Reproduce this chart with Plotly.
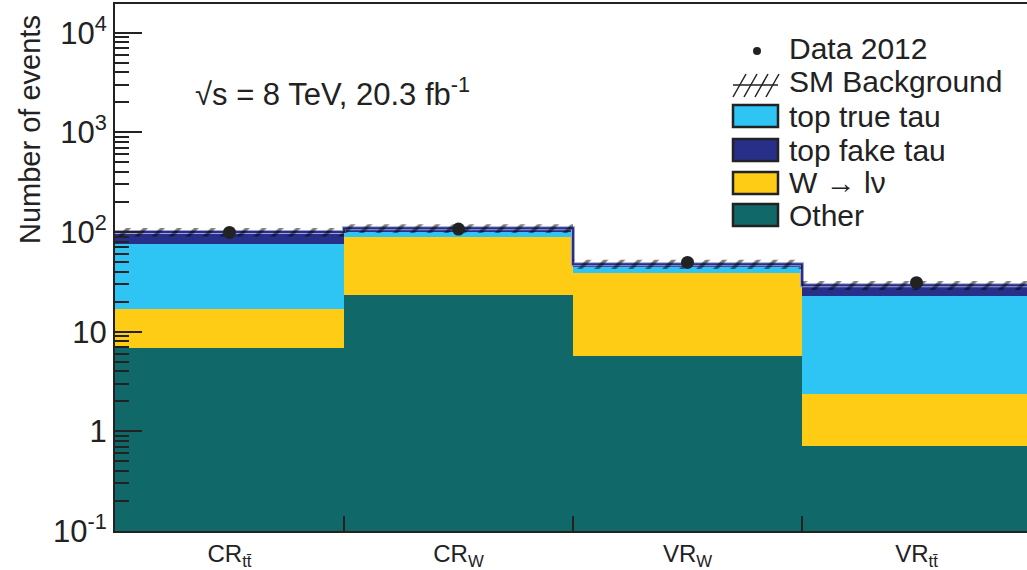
import plotly.graph_objects as go

# Regions (bins) and stacked background yields
regions = ["CR<sub>tt̄</sub>", "CR<sub>W</sub>", "VR<sub>W</sub>", "VR<sub>tt̄</sub>"]
bin_centers = [0.5, 1.5, 2.5, 3.5]
bin_edges = [0, 1, 2, 3, 4]

other = [6.9, 23.2, 5.7, 0.71]
w_lnu = [10.0, 66.3, 32.7, 1.65]
top_true_tau = [58.6, 10.5, 6.4, 20.5]
top_fake_tau = [24.5, 9.0, 2.8, 6.4]
bkg_err = [10.0, 11.0, 5.0, 3.0]
data_2012 = [99, 107, 49.5, 31]

C_OTHER = "#106868"
C_W = "#fecc14"
C_TRUE = "#2ec4f3"
C_FAKE = "#272f88"
FONT = "Liberation Sans, Arial, sans-serif"

W, H = 1027, 570
L, T, B = 115, 4, 531  # plot area in pixels


def px(x):
    return (x - L) / (W - L)


def py(y):
    return (B - y) / (B - T)


total = [a + b + c + d for a, b, c, d in zip(other, w_lnu, top_true_tau, top_fake_tau)]
upper = [t + e for t, e in zip(total, bkg_err)]
lower = [t - e for t, e in zip(total, bkg_err)]

fig = go.Figure()

for name, vals, col in [
    ("Other", other, C_OTHER),
    ("W → lν", w_lnu, C_W),
    ("top true tau", top_true_tau, C_TRUE),
    ("top fake tau", top_fake_tau, C_FAKE),
]:
    fig.add_trace(
        go.Bar(x=bin_centers, y=vals, width=1, name=name,
               marker=dict(color=col, line=dict(width=0)), showlegend=False)
    )

# total outline (step)
fig.add_trace(go.Scatter(x=bin_edges, y=total + total[-1:], mode="lines",
                         line=dict(shape="hv", color="#9ea3d4", width=4),
                         showlegend=False, hoverinfo="skip"))
fig.add_trace(go.Scatter(x=bin_edges, y=total + total[-1:], mode="lines",
                         line=dict(shape="hv", color=C_FAKE, width=2),
                         showlegend=False, hoverinfo="skip"))

# SM background uncertainty band (hatched)
fig.add_trace(go.Scatter(x=bin_edges, y=lower + lower[-1:], mode="lines",
                         line=dict(shape="hv", width=0), showlegend=False,
                         hoverinfo="skip"))
fig.add_trace(go.Scatter(x=bin_edges, y=upper + upper[-1:], mode="lines",
                         line=dict(shape="hv", width=0), fill="tonexty",
                         fillcolor="rgba(0,0,0,0)",
                         fillpattern=dict(shape="/", fgcolor="black",
                                          bgcolor="rgba(0,0,0,0)", size=12,
                                          solidity=0.3),
                         showlegend=False, hoverinfo="skip"))

# data
fig.add_trace(go.Scatter(x=bin_centers, y=data_2012, mode="markers",
                         marker=dict(color="#222222", size=13),
                         name="Data 2012", showlegend=False))

# y ticks
major = [0.1, 1, 10, 100, 1000, 10000]
major_txt = ["10<sup>-1</sup>", "1", "10", "10<sup>2</sup>", "10<sup>3</sup>", "10<sup>4</sup>"]
minor_vals = [m * d for d in [0.1, 1, 10, 100, 1000, 10000] for m in range(2, 10)]

fig.update_layout(
    width=W, height=H,
    margin=dict(l=L, r=0, t=T, b=H - B),
    paper_bgcolor="white", plot_bgcolor="white",
    barmode="stack", bargap=0,
    font=dict(family=FONT, color="#222222"),
    showlegend=False,
)
fig.update_xaxes(
    range=[0, (W - L) / 229.0], showgrid=False, zeroline=False,
    tickvals=bin_centers, ticktext=regions, ticks="", tickfont=dict(size=24),
    showline=True, linecolor="#222222", linewidth=2, mirror=True,
    minor=dict(tickvals=[1, 2, 3], ticks="inside", ticklen=15,
               tickcolor="#222222", tickwidth=1.5),
)
fig.update_yaxes(
    type="log", range=[-1, 4.288], showgrid=False, zeroline=False,
    tickvals=major, ticktext=major_txt, ticks="inside", ticklen=27,
    tickwidth=1.5, tickcolor="#222222", tickfont=dict(size=31),
    showline=True, linecolor="#222222", linewidth=2,
    minor=dict(tickvals=minor_vals, ticks="inside", ticklen=14,
               tickcolor="#222222", tickwidth=1.5),
)

annotations = [
    dict(xref="paper", yref="paper", x=px(30), y=py(130), text="Number of events",
         textangle=-90, showarrow=False, font=dict(size=29),
         xanchor="center", yanchor="middle"),
    dict(xref="paper", yref="paper", x=px(193), y=py(92),
         text="√s = 8 TeV, 20.3 fb<sup>-1</sup>",
         showarrow=False, font=dict(size=31), xanchor="left", yanchor="middle"),
]
shapes = []

# legend drawn by hand
leg_rows = [
    ("Data 2012", 48, None),
    ("SM Background", 82, None),
    ("top true tau", 116, C_TRUE),
    ("top fake tau", 150, C_FAKE),
    ("W → lν", 183, C_W),
    ("Other", 215, C_OTHER),
]
for label, yc, col in leg_rows:
    annotations.append(dict(xref="paper", yref="paper", x=px(787), y=py(yc),
                            text=label, showarrow=False, font=dict(size=30),
                            xanchor="left", yanchor="middle"))
    if col is not None:
        shapes.append(dict(type="rect", xref="paper", yref="paper",
                           x0=px(733), x1=px(778), y0=py(yc + 11), y1=py(yc - 11),
                           fillcolor=col, line=dict(color="#222222", width=2.5)))

shapes.append(dict(type="circle", xref="paper", yref="paper",
                   x0=px(753), x1=px(761), y0=py(55), y1=py(47),
                   fillcolor="#222222", line=dict(width=0)))
shapes.append(dict(type="line", xref="paper", yref="paper",
                   x0=px(733), x1=px(778), y0=py(85), y1=py(85),
                   line=dict(color="#222222", width=1.5)))
for k in range(4):
    x0 = 733 + k * 11
    shapes.append(dict(type="line", xref="paper", yref="paper",
                       x0=px(x0), x1=px(x0 + 13), y0=py(97), y1=py(74),
                       line=dict(color="#222222", width=1.5)))

fig.update_layout(annotations=annotations, shapes=shapes)

# page body margin removed so the figure sits at the window corner
fig.write_html("out.html", config={"displayModeBar": False},
               post_script="document.body.style.margin='0';")
